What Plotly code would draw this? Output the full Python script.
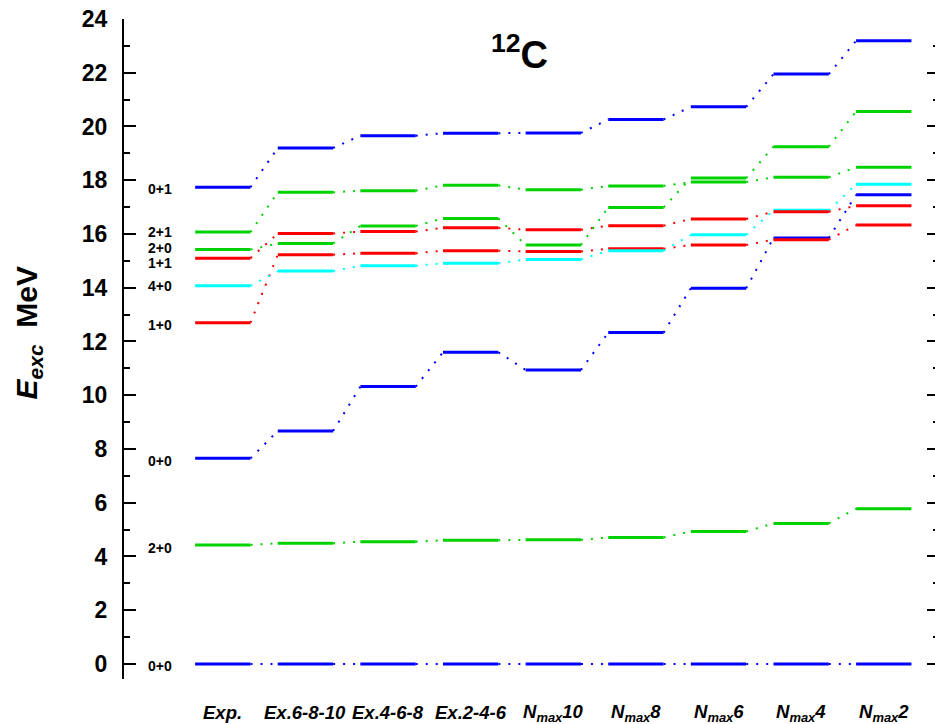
import plotly.graph_objects as go

# ---------------- data ----------------
columns = ["Exp.", "Ex.6-8-10", "Ex.4-6-8", "Ex.2-4-6",
           "N<sub>max</sub>10", "N<sub>max</sub>8", "N<sub>max</sub>6",
           "N<sub>max</sub>4", "N<sub>max</sub>2"]

gs_0p0 = [0.00, 0.00, 0.00, 0.00, 0.00, 0.00, 0.00, 0.00, 0.00]
lv_2p0a = [4.43, 4.49, 4.55, 4.60, 4.62, 4.71, 4.93, 5.23, 5.78]
lv_0p0b = [7.65, 8.67, 10.32, 11.60, 10.94, 12.33, 13.98, 15.85, 17.46]
lv_1p0 = [12.70, 15.23, 15.28, 15.38, 15.35, 15.45, 15.59, 15.79, 16.33]
lv_4p0 = [14.07, 14.62, 14.82, 14.91, 15.05, 15.38, 15.97, 16.88, 17.85]
lv_1p1 = [15.10, 16.02, 16.09, 16.23, 16.16, 16.31, 16.56, 16.83, 17.05]
lv_2p0b = [15.42, 15.65, 16.30, 16.58, 15.59, 16.99, 18.08, 19.25, 20.56]
lv_2p1 = [16.07, 17.55, 17.61, 17.81, 17.65, 17.79, 17.93, 18.11, 18.48]
lv_0p1 = [17.74, 19.20, 19.66, 19.75, 19.76, 20.26, 20.73, 21.95, 23.19]

state_labels = ["0+0", "2+0", "0+0", "1+0", "4+0", "1+1", "2+0", "2+1", "0+1"]
state_label_y = [-0.07, 4.32, 7.55, 12.63, 14.07, 14.91, 15.49, 16.07, 17.66]

BLUE = "#0000FF"
GREEN = "#00D200"
RED = "#FF0000"
CYAN = "#00FFFF"

series = [
    (gs_0p0, BLUE),
    (lv_2p0a, GREEN),
    (lv_0p0b, BLUE),
    (lv_1p0, RED),
    (lv_4p0, CYAN),
    (lv_1p1, RED),
    (lv_2p0b, GREEN),
    (lv_2p1, GREEN),
    (lv_0p1, BLUE),
]

HALF = 0.335  # half width of a level bar, in column units
YRANGE = [-0.56, 24.0]

fig = go.Figure()

# connectors (dotted)
for vals, col in series:
    xs, ys = [], []
    for i in range(len(vals) - 1):
        xs += [i + HALF, i + 1 - HALF, None]
        ys += [vals[i], vals[i + 1], None]
    fig.add_trace(go.Scatter(x=xs, y=ys, mode="lines",
                             line=dict(color=col, width=2, dash="2px,8px"),
                             hoverinfo="skip", showlegend=False))

# level bars
for vals, col in series:
    xs, ys = [], []
    for i, v in enumerate(vals):
        xs += [i - HALF, i + HALF, None]
        ys += [v, v, None]
    fig.add_trace(go.Scatter(x=xs, y=ys, mode="lines",
                             line=dict(color=col, width=3),
                             hoverinfo="skip", showlegend=False))

# invisible trace so the right-side tick axis is drawn
fig.add_trace(go.Scatter(x=[0], y=[gs_0p0[0]], yaxis="y2", mode="markers",
                         marker=dict(opacity=0, size=1),
                         showlegend=False, hoverinfo="skip"))

FONT = "Liberation Sans, Arial, sans-serif"

# state labels
for txt, yy in zip(state_labels, state_label_y):
    fig.add_annotation(x=-0.932, y=yy, xref="x", yref="y", text="<b>%s</b>" % txt,
                       showarrow=False, xanchor="left", yanchor="middle",
                       font=dict(family=FONT, size=14, color="black"))

# column labels
for i, c in enumerate(columns):
    fig.add_annotation(x=i, y=-0.0515, xref="x", yref="paper",
                       text="<b><i>%s</i></b>" % c,
                       showarrow=False, xanchor="center", yanchor="middle",
                       font=dict(family=FONT, size=18.5, color="black"))

fig.update_layout(
    width=935, height=724,
    margin=dict(l=124, r=0, t=19, b=45),
    plot_bgcolor="white", paper_bgcolor="white",
    font=dict(family=FONT, color="black"),
    xaxis=dict(range=[-1.196, 8.62], showgrid=False, zeroline=False,
               showline=False, ticks="", showticklabels=False,
               automargin=False),
    yaxis=dict(range=YRANGE, showgrid=False, zeroline=False,
               showline=True, linecolor="black", linewidth=2,
               ticks="inside", ticklen=12, tickwidth=2, tickcolor="black",
               tick0=0, dtick=2, automargin=False, ticklabeloverflow="allow",
               minor=dict(ticks="inside", ticklen=6, tickwidth=2,
                          tickcolor="black", dtick=1, tick0=0),
               tickfont=dict(family=FONT, size=23, color="black", weight="bold"),
               ticklabelstandoff=10),
    yaxis2=dict(range=YRANGE, overlaying="y", side="right", anchor="x",
                showgrid=False, zeroline=False, showline=False,
                showticklabels=False, automargin=False,
                ticks="inside", ticklen=8, tickwidth=2, tickcolor="black",
                tick0=0, dtick=2,
                minor=dict(ticks="inside", ticklen=2, tickwidth=2,
                           tickcolor="black", dtick=1, tick0=0)),
)

# title 12C
fig.add_annotation(x=0.488, y=0.95, xref="paper", yref="paper",
                   text="<b><sup>12</sup>C</b>", showarrow=False,
                   xanchor="center", yanchor="middle",
                   font=dict(family=FONT, size=38, color="black"))

# y axis title
fig.add_annotation(x=-0.118, y=0.524, xref="paper", yref="paper",
                   text="<b><i>E</i><sub><i>exc</i></sub>  MeV</b>",
                   showarrow=False, textangle=-90,
                   xanchor="center", yanchor="middle",
                   font=dict(family=FONT, size=30, color="black"))

fig.write_html("out.html",
               config={"displayModeBar": False},
               post_script="document.body.style.margin='0';"
                           "document.body.style.overflow='hidden';")
